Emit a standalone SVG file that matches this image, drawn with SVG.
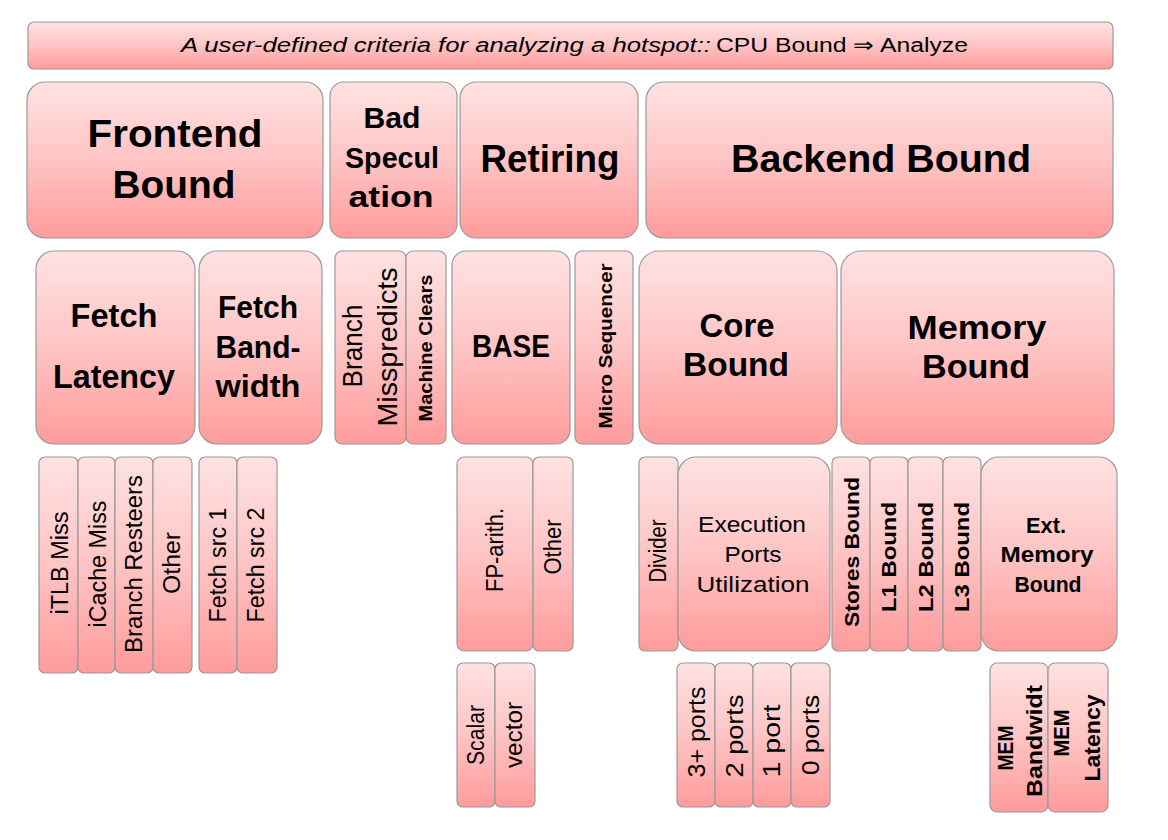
<svg xmlns="http://www.w3.org/2000/svg" width="1168" height="840" viewBox="0 0 1168 840">
<defs>
<linearGradient id="g" x1="0" y1="0" x2="0" y2="1">
<stop offset="0" stop-color="#ffe2e2"/>
<stop offset="0.5" stop-color="#ffc4c4"/>
<stop offset="1" stop-color="#ff9b9b"/>
</linearGradient>
<style>
.box{fill:url(#g);stroke:#9a9a9a;stroke-width:1.2}
text{font-family:"Liberation Sans",Arial,sans-serif;fill:#000;text-anchor:middle}
.b{font-weight:bold}
.r{font-size:23px}
</style>
</defs>
<rect width="1168" height="840" fill="#fff"/>

<g id="banner">
<rect class="box" x="28" y="22" width="1085" height="47" rx="6"/>
<text x="711" y="52" font-size="20" font-style="italic" style="text-anchor:end" textLength="530" lengthAdjust="spacingAndGlyphs">A user-defined criteria for analyzing a hotspot::</text>
<text x="716" y="52" font-size="20" style="text-anchor:start" textLength="252" lengthAdjust="spacingAndGlyphs">CPU Bound ⇒ Analyze</text>
</g>

<g id="frontend-bound">
<rect class="box" x="27" y="82" width="296" height="156" rx="18"/>
<text class="b" x="175" y="147" font-size="38" textLength="175" lengthAdjust="spacingAndGlyphs">Frontend</text>
<text class="b" x="174" y="198" font-size="38" textLength="123" lengthAdjust="spacingAndGlyphs">Bound</text>
</g>
<g id="bad-speculation">
<rect class="box" x="330" y="82" width="127" height="156" rx="14"/>
<text class="b" x="392" y="128" font-size="29" textLength="57" lengthAdjust="spacingAndGlyphs">Bad</text>
<text class="b" x="392" y="168" font-size="29" textLength="94" lengthAdjust="spacingAndGlyphs">Specul</text>
<text class="b" x="391" y="207" font-size="29" textLength="85" lengthAdjust="spacingAndGlyphs">ation</text>
</g>
<g id="retiring">
<rect class="box" x="460" y="82" width="178" height="156" rx="16"/>
<text class="b" x="550" y="172" font-size="38" textLength="139" lengthAdjust="spacingAndGlyphs">Retiring</text>
</g>
<g id="backend-bound">
<rect class="box" x="646" y="82" width="467" height="156" rx="18"/>
<text class="b" x="881" y="172" font-size="38" textLength="300" lengthAdjust="spacingAndGlyphs">Backend Bound</text>
</g>

<g id="fetch-latency">
<rect class="box" x="36" y="251" width="159" height="193" rx="18"/>
<text class="b" x="114" y="327" font-size="34" textLength="87" lengthAdjust="spacingAndGlyphs">Fetch</text>
<text class="b" x="114" y="388" font-size="34" textLength="122" lengthAdjust="spacingAndGlyphs">Latency</text>
</g>
<g id="fetch-bandwidth">
<rect class="box" x="199" y="251" width="123" height="193" rx="18"/>
<text class="b" x="258" y="318" font-size="31" textLength="80" lengthAdjust="spacingAndGlyphs">Fetch</text>
<text class="b" x="258" y="358" font-size="31" textLength="85" lengthAdjust="spacingAndGlyphs">Band-</text>
<text class="b" x="258" y="397" font-size="31" textLength="85" lengthAdjust="spacingAndGlyphs">width</text>
</g>
<g id="branch-misspredicts">
<rect class="box" x="335" y="251" width="71" height="193" rx="7"/>
<text transform="translate(352,346) rotate(-90)" dy="0.36em" font-size="28" textLength="83" lengthAdjust="spacingAndGlyphs">Branch</text>
<text transform="translate(387,347) rotate(-90)" dy="0.36em" font-size="28" textLength="159" lengthAdjust="spacingAndGlyphs">Misspredicts</text>
</g>
<g id="machine-clears">
<rect class="box" x="406" y="251" width="40" height="193" rx="7"/>
<text class="b" transform="translate(425,348) rotate(-90)" dy="0.36em" font-size="19" textLength="147" lengthAdjust="spacingAndGlyphs">Machine Clears</text>
</g>
<g id="base">
<rect class="box" x="452" y="251" width="118" height="193" rx="14"/>
<text class="b" x="511" y="357" font-size="32" textLength="78" lengthAdjust="spacingAndGlyphs">BASE</text>
</g>
<g id="micro-sequencer">
<rect class="box" x="575" y="251" width="58" height="193" rx="7"/>
<text class="b" transform="translate(605,346) rotate(-90)" dy="0.36em" font-size="19" textLength="165" lengthAdjust="spacingAndGlyphs">Micro Sequencer</text>
</g>
<g id="core-bound">
<rect class="box" x="639" y="251" width="198" height="193" rx="20"/>
<text class="b" x="737" y="337" font-size="33" textLength="75" lengthAdjust="spacingAndGlyphs">Core</text>
<text class="b" x="736" y="376" font-size="33" textLength="106" lengthAdjust="spacingAndGlyphs">Bound</text>
</g>
<g id="memory-bound">
<rect class="box" x="841" y="251" width="273" height="193" rx="20"/>
<text class="b" x="977" y="339" font-size="33" textLength="139" lengthAdjust="spacingAndGlyphs">Memory</text>
<text class="b" x="976" y="378" font-size="33" textLength="108" lengthAdjust="spacingAndGlyphs">Bound</text>
</g>

<g id="itlb-miss">
<rect class="box" x="39" y="457" width="39" height="216" rx="6"/>
<text class="r" transform="translate(60,563) rotate(-90)" dy="0.36em" textLength="103" lengthAdjust="spacingAndGlyphs">iTLB Miss</text>
</g>
<g id="icache-miss">
<rect class="box" x="78" y="457" width="37" height="216" rx="6"/>
<text class="r" transform="translate(98,564) rotate(-90)" dy="0.36em" textLength="127" lengthAdjust="spacingAndGlyphs">iCache Miss</text>
</g>
<g id="branch-resteers">
<rect class="box" x="115" y="457" width="38" height="216" rx="6"/>
<text class="r" transform="translate(134,564) rotate(-90)" dy="0.36em" textLength="178" lengthAdjust="spacingAndGlyphs">Branch Resteers</text>
</g>
<g id="fe-other">
<rect class="box" x="153" y="457" width="39" height="216" rx="6"/>
<text class="r" transform="translate(172,563) rotate(-90)" dy="0.36em" textLength="62" lengthAdjust="spacingAndGlyphs">Other</text>
</g>
<g id="fetch-src-1">
<rect class="box" x="199" y="457" width="38" height="216" rx="6"/>
<text class="r" transform="translate(218,565) rotate(-90)" dy="0.36em" textLength="115" lengthAdjust="spacingAndGlyphs">Fetch src 1</text>
</g>
<g id="fetch-src-2">
<rect class="box" x="237" y="457" width="40" height="216" rx="6"/>
<text class="r" transform="translate(256,565) rotate(-90)" dy="0.36em" textLength="115" lengthAdjust="spacingAndGlyphs">Fetch src 2</text>
</g>

<g id="fp-arith">
<rect class="box" x="457" y="457" width="76" height="194" rx="7"/>
<text class="r" transform="translate(495,550) rotate(-90)" dy="0.36em" textLength="84" lengthAdjust="spacingAndGlyphs">FP-arith.</text>
</g>
<g id="base-other">
<rect class="box" x="533" y="457" width="40" height="194" rx="6"/>
<text class="r" transform="translate(553,547) rotate(-90)" dy="0.36em" textLength="55" lengthAdjust="spacingAndGlyphs">Other</text>
</g>
<g id="scalar">
<rect class="box" x="457" y="663" width="38" height="144" rx="6"/>
<text class="r" transform="translate(476,735) rotate(-90)" dy="0.36em" textLength="60" lengthAdjust="spacingAndGlyphs">Scalar</text>
</g>
<g id="vector">
<rect class="box" x="495" y="663" width="40" height="144" rx="6"/>
<text class="r" transform="translate(515,735) rotate(-90)" dy="0.3em" textLength="66" lengthAdjust="spacingAndGlyphs">vector</text>
</g>

<g id="divider">
<rect class="box" x="639" y="457" width="39" height="194" rx="6"/>
<text class="r" transform="translate(658,551) rotate(-90)" dy="0.36em" textLength="63" lengthAdjust="spacingAndGlyphs">Divider</text>
</g>
<g id="execution-ports">
<rect class="box" x="678" y="457" width="152" height="194" rx="18"/>
<text x="752" y="532" font-size="22" textLength="108" lengthAdjust="spacingAndGlyphs">Execution</text>
<text x="753" y="562" font-size="22" textLength="57" lengthAdjust="spacingAndGlyphs">Ports</text>
<text x="753" y="592" font-size="22" textLength="113" lengthAdjust="spacingAndGlyphs">Utilization</text>
</g>
<g id="ports-3plus">
<rect class="box" x="677" y="663" width="38" height="144" rx="6"/>
<text class="r" transform="translate(697,732) rotate(-90)" dy="0.36em" textLength="91" lengthAdjust="spacingAndGlyphs">3+ ports</text>
</g>
<g id="ports-2">
<rect class="box" x="715" y="663" width="38" height="144" rx="6"/>
<text class="r" transform="translate(735,736) rotate(-90)" dy="0.36em" textLength="83" lengthAdjust="spacingAndGlyphs">2 ports</text>
</g>
<g id="ports-1">
<rect class="box" x="753" y="663" width="38" height="144" rx="6"/>
<text class="r" transform="translate(772,741) rotate(-90)" dy="0.36em" textLength="73" lengthAdjust="spacingAndGlyphs">1 port</text>
</g>
<g id="ports-0">
<rect class="box" x="791" y="663" width="39" height="144" rx="6"/>
<text class="r" transform="translate(811,735) rotate(-90)" dy="0.36em" textLength="80" lengthAdjust="spacingAndGlyphs">0 ports</text>
</g>

<g id="stores-bound">
<rect class="box" x="832" y="457" width="38" height="194" rx="6"/>
<text class="b" transform="translate(851,552) rotate(-90)" dy="0.36em" font-size="21" textLength="150" lengthAdjust="spacingAndGlyphs">Stores Bound</text>
</g>
<g id="l1-bound">
<rect class="box" x="870" y="457" width="38" height="194" rx="6"/>
<text class="b" transform="translate(888,557) rotate(-90)" dy="0.36em" font-size="21" textLength="110" lengthAdjust="spacingAndGlyphs">L1 Bound</text>
</g>
<g id="l2-bound">
<rect class="box" x="908" y="457" width="35" height="194" rx="6"/>
<text class="b" transform="translate(925,557) rotate(-90)" dy="0.36em" font-size="21" textLength="110" lengthAdjust="spacingAndGlyphs">L2 Bound</text>
</g>
<g id="l3-bound">
<rect class="box" x="943" y="457" width="38" height="194" rx="6"/>
<text class="b" transform="translate(961,557) rotate(-90)" dy="0.36em" font-size="21" textLength="110" lengthAdjust="spacingAndGlyphs">L3 Bound</text>
</g>
<g id="ext-memory-bound">
<rect class="box" x="981" y="457" width="136" height="194" rx="18"/>
<text class="b" x="1046" y="533" font-size="22" textLength="40" lengthAdjust="spacingAndGlyphs">Ext.</text>
<text class="b" x="1047" y="562" font-size="22" textLength="93" lengthAdjust="spacingAndGlyphs">Memory</text>
<text class="b" x="1048" y="592" font-size="22" textLength="67" lengthAdjust="spacingAndGlyphs">Bound</text>
</g>
<g id="mem-bandwidth">
<rect class="box" x="990" y="663" width="58" height="149" rx="7"/>
<text class="b" transform="translate(1005,748) rotate(-90)" dy="0.36em" font-size="22" textLength="45" lengthAdjust="spacingAndGlyphs">MEM</text>
<text class="b" transform="translate(1034,741) rotate(-90)" dy="0.36em" font-size="22" textLength="112" lengthAdjust="spacingAndGlyphs">Bandwidt</text>
</g>
<g id="mem-latency">
<rect class="box" x="1048" y="663" width="60" height="149" rx="7"/>
<text class="b" transform="translate(1061,733) rotate(-90)" dy="0.36em" font-size="22" textLength="47" lengthAdjust="spacingAndGlyphs">MEM</text>
<text class="b" transform="translate(1092,738) rotate(-90)" dy="0.36em" font-size="22" textLength="87" lengthAdjust="spacingAndGlyphs">Latency</text>
</g>
<g id="connectors"/>
</svg>
